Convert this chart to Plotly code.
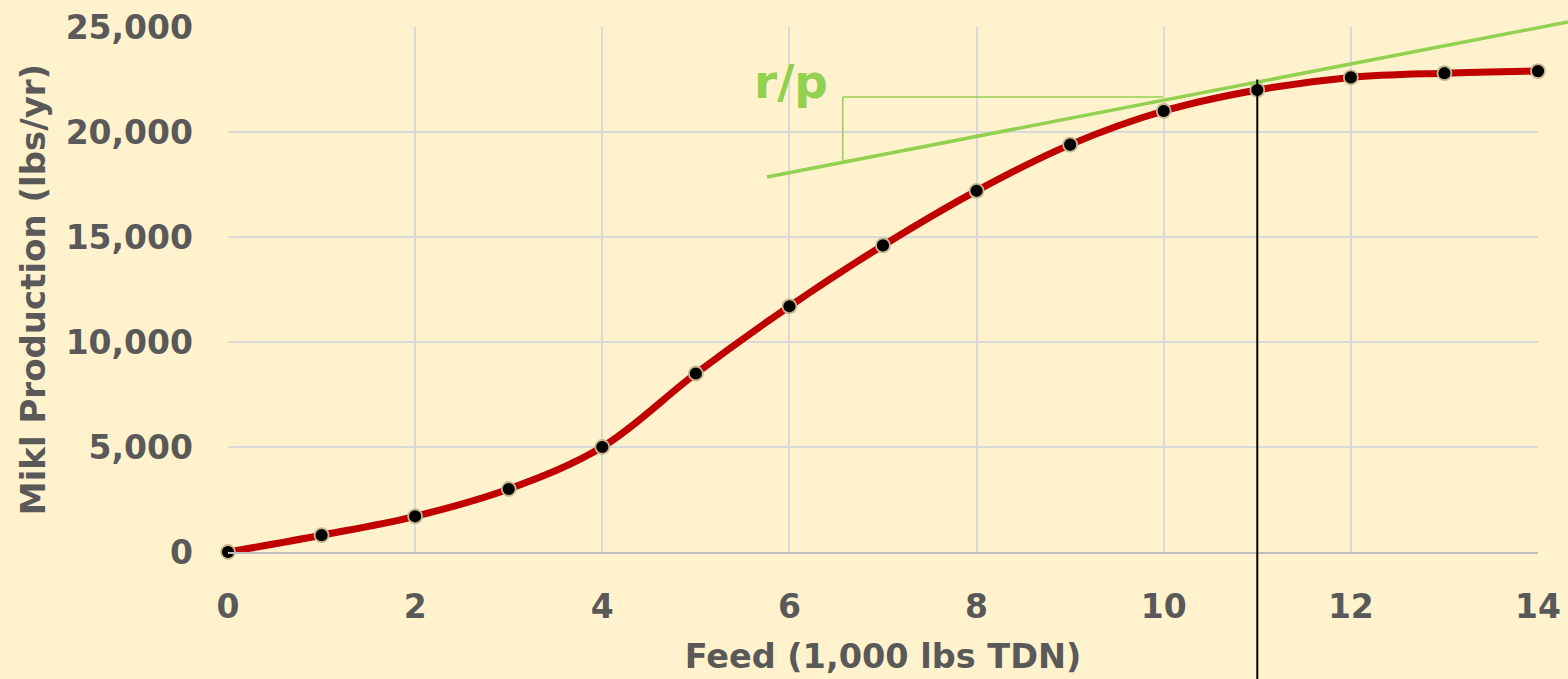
import plotly.graph_objects as go

# Data
feed = [0, 1, 2, 3, 4, 5, 6, 7, 8, 9, 10, 11, 12, 13, 14]
milk = [0, 800, 1700, 3000, 5000, 8500, 11700, 14600, 17200, 19400, 21000, 22000, 22600, 22800, 22900]

x_ticks = [0, 2, 4, 6, 8, 10, 12, 14]
y_ticks = [0, 5000, 10000, 15000, 20000, 25000]

# Annotation geometry (data units)
tangent_x = [5.76, 14.32]
tangent_y = [17860, 25240]
bracket_x = [6.57, 6.57, 9.99]
bracket_y = [18620, 21670, 21670]
rp_label_pos = [6.02, 22400]
optimum_x = 11
optimum_y = [22500, -6050]

X_MAX = 14
Y_MAX = 25000


def px(v):
    return v / X_MAX


def py(v):
    return v / Y_MAX


GREEN = "#92D050"
GREY = "#595959"
FONT = "DejaVu Sans"

fig = go.Figure()

fig.add_trace(go.Scatter(
    x=feed, y=milk, mode="lines+markers",
    line=dict(color="#C00000", width=7, shape="spline", smoothing=1),
    marker=dict(color="black", size=14, line=dict(color="#C4B98F", width=1.8)),
    cliponaxis=False, showlegend=False, hoverinfo="x+y",
))

shapes = []
# tangent line
shapes.append(dict(type="line", xref="paper", yref="paper",
                   x0=px(tangent_x[0]), y0=py(tangent_y[0]),
                   x1=px(tangent_x[1]), y1=py(tangent_y[1]),
                   line=dict(color=GREEN, width=3.5), layer="above"))
# bracket
for i in range(len(bracket_x) - 1):
    shapes.append(dict(type="line", xref="paper", yref="paper",
                       x0=px(bracket_x[i]), y0=py(bracket_y[i]),
                       x1=px(bracket_x[i + 1]), y1=py(bracket_y[i + 1]),
                       line=dict(color=GREEN, width=1.5), layer="above"))
# vertical optimum line
shapes.append(dict(type="line", xref="paper", yref="paper",
                   x0=px(optimum_x), y0=py(optimum_y[0]),
                   x1=px(optimum_x), y1=py(optimum_y[1]),
                   line=dict(color="black", width=2), layer="above"))

fig.update_layout(
    width=1568, height=679,
    margin=dict(l=228, r=30, t=27, b=127, autoexpand=False),
    paper_bgcolor="#FFF2CC", plot_bgcolor="#FFF2CC",
    shapes=shapes,
    annotations=[dict(x=rp_label_pos[0], y=rp_label_pos[1], xref="x", yref="y",
                      text="<b>r/p</b>", showarrow=False,
                      font=dict(family=FONT, size=47, color=GREEN))],
    xaxis=dict(
        range=[0, X_MAX], tickvals=x_ticks, ticktext=[str(v) for v in x_ticks],
        showgrid=True, gridcolor="#D9D9D9", gridwidth=1.5,
        showline=True, linecolor="#BFBFBF", linewidth=1.5, zeroline=False,
        tickfont=dict(family=FONT, size=33, color=GREY, weight="bold"),
        ticklabelstandoff=25, automargin=False,
        title=dict(text="<b>Feed (1,000 lbs TDN)</b>", standoff=19,
                   font=dict(family=FONT, size=33.5, color=GREY)),
    ),
    yaxis=dict(
        range=[0, Y_MAX], tickvals=y_ticks, ticktext=[f"{v:,}" for v in y_ticks],
        showgrid=True, gridcolor="#D9D9D9", gridwidth=1.5,
        zeroline=False, showline=False,
        tickfont=dict(family=FONT, size=33, color=GREY, weight="bold"),
        ticklabelstandoff=34, automargin=False,
        title=dict(text="<b>Mikl Production (lbs/yr)</b>", standoff=9,
                   font=dict(family=FONT, size=34, color=GREY)),
    ),
    font=dict(family=FONT, color=GREY),
)

fig.write_html("out.html")
